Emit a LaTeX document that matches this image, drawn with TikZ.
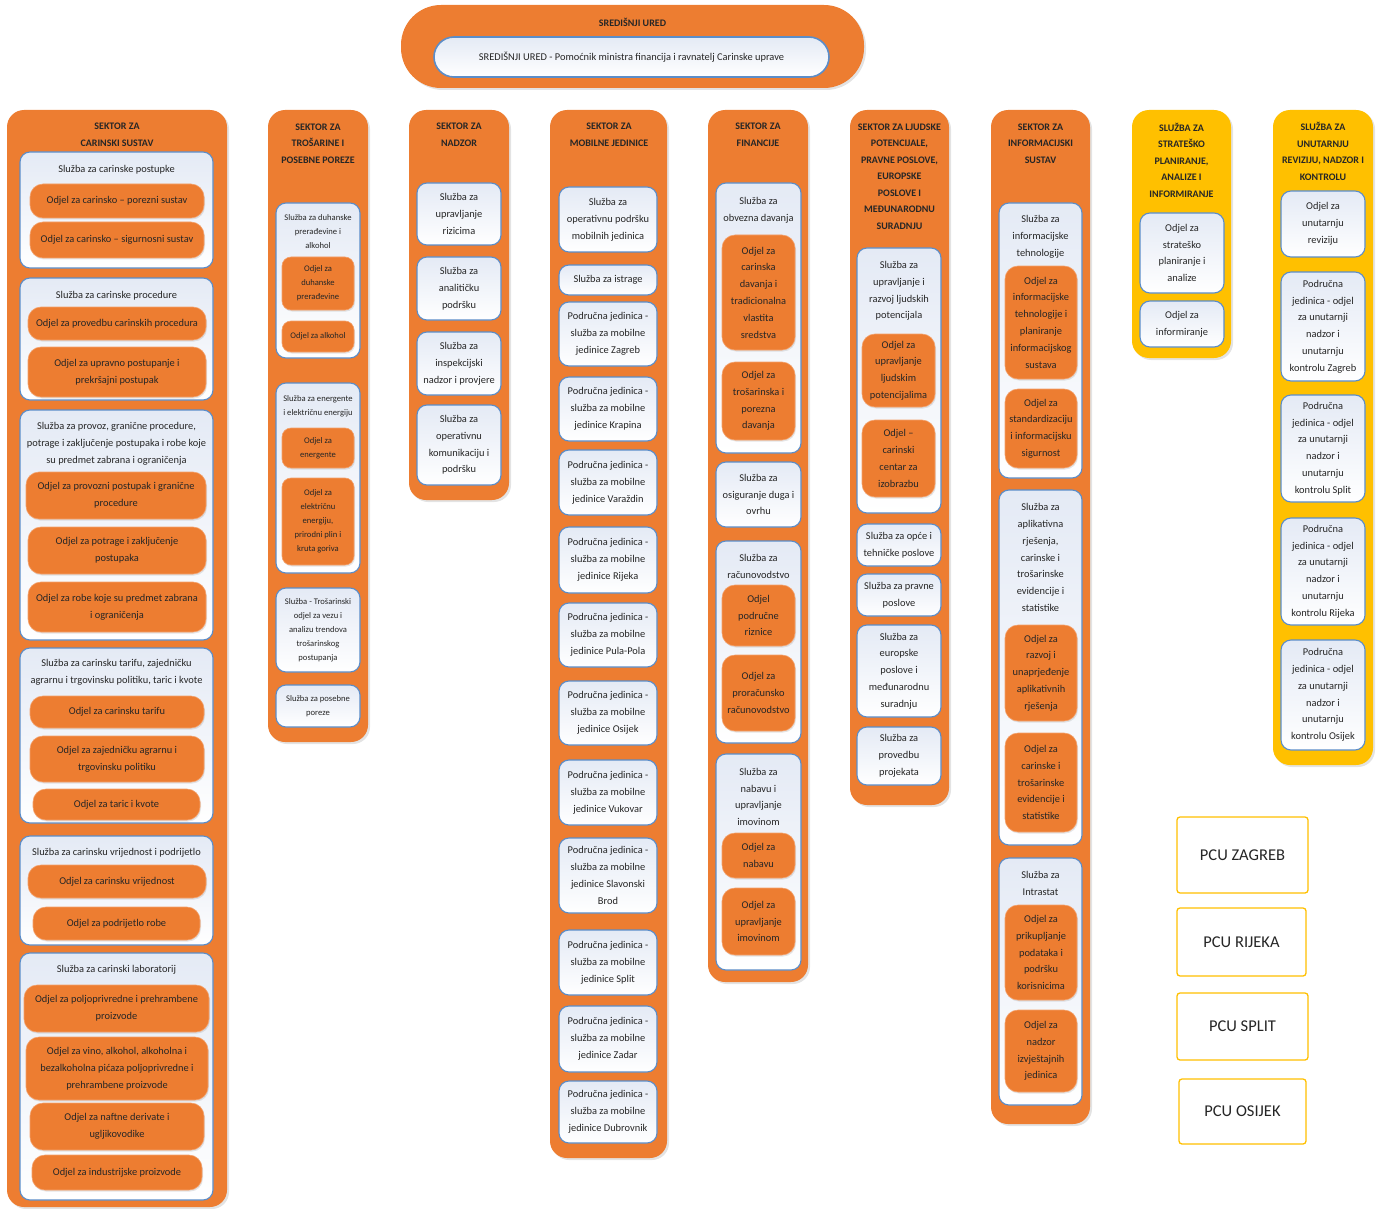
\documentclass[tikz,border=0pt]{standalone}
\usepackage{fontspec}
\setmainfont{Carlito}
\usetikzlibrary{shadows}
\definecolor{orgC}{HTML}{ED7D31}
\definecolor{orgL}{HTML}{F3A06A}
\definecolor{yelC}{HTML}{FFC000}
\definecolor{bluC}{HTML}{5B8DC9}
\definecolor{svtop}{HTML}{E4EAF5}
\definecolor{txtC}{HTML}{262626}
\newcommand\fsN{\fontsize{10.4}{16.8}\selectfont}
\newcommand\fsS{\fontsize{8.6}{14}\selectfont}
\newcommand\fsT{\fontsize{10}{16.5}\selectfont\bfseries}
\newcommand\bx[7]{\node[#1, minimum width={(#5-#3)*1pt}, minimum height={(#6-#4)*1pt}] (#2) at ({(#3+#5)/2},{(#4+#6)/2}) {#7};}
\tikzset{
 sector/.style={fill=orgC, rounded corners=17pt, draw=none, inner sep=0pt,
   drop shadow={opacity=0.22, shadow xshift=2pt, shadow yshift=-2pt}},
 ysector/.style={sector, fill=yelC},
 svc/.style={draw=bluC, line width=1.1pt, rounded corners=10pt, top color=svtop, bottom color=white,
   font=\fsN, align=center, text=txtC, inner sep=2pt},
 svcs/.style={svc, font=\fsS},
 odj/.style={fill=orgC, draw=orgL, line width=0.6pt, rounded corners=13pt, font=\fsN, align=center,
   text=txtC, inner sep=2pt, drop shadow={opacity=0.2, shadow xshift=1pt, shadow yshift=-1.5pt}},
 odjs/.style={odj, font=\fsS, rounded corners=9pt},
 ttl/.style={font=\fsT, align=center, text=txtC, inner sep=0pt},
 stl/.style={font=\fsN, align=center, text=txtC, inner sep=0pt},
 stls/.style={stl, font=\fsS},
 pcu/.style={draw=yelC, line width=1.3pt, fill=white, rounded corners=3pt, text=txtC,
   font=\fontsize{16.5}{20}\selectfont}
}
\begin{document}
\begin{tikzpicture}[x=1pt,y=-1pt]
\useasboundingbox (0,0) rectangle (1379,1209);
% ---------------- central office
\bx{sector, rounded corners=40pt}{central}{401}{5}{864}{88}{}
\node[ttl] (centralT) at (632.5,22) {SREDIŠNJI URED};
\bx{svc, rounded corners=20pt, line width=1.6pt}{centralIn}{434}{37}{829}{77}{SREDIŠNJI URED - Pomoćnik ministra financija i ravnatelj Carinske uprave}
% ---------------- column 1
\bx{sector}{s1}{7}{110}{227}{1207}{}
\node[ttl] (s1T) at (117,135) {SEKTOR ZA\\CARINSKI SUSTAV};
\bx{svc}{s1a}{20}{152}{213}{268}{}
\node[stl] (s1aT) at (116.5,170) {Služba za carinske postupke};
\bx{odj}{s1a1}{30}{184}{204}{218}{Odjel za carinsko – porezni sustav}
\bx{odj}{s1a2}{30}{222}{204}{258}{Odjel za carinsko – sigurnosni sustav}
\bx{svc}{s1b}{20}{278}{213}{400}{}
\node[stl] (s1bT) at (116.5,296) {Služba za carinske procedure};
\bx{odj}{s1b1}{28}{307}{206}{340}{Odjel za provedbu carinskih procedura}
\bx{odj}{s1b2}{28}{347}{206}{397}{Odjel za upravno postupanje i\\prekršajni postupak}
\bx{svc}{s1c}{20}{410}{213}{640}{}
\node[stl] (s1cT) at (116.5,444) {Služba za provoz, granične procedure,\\potrage i zaključenje postupaka i robe koje\\su predmet zabrana i ograničenja};
\bx{odj}{s1c1}{26}{472}{206}{519}{Odjel za provozni postupak i granične\\procedure}
\bx{odj}{s1c2}{28}{527}{206}{574}{Odjel za potrage i zaključenje\\postupaka}
\bx{odj}{s1c3}{28}{582}{206}{632}{Odjel za robe koje su predmet zabrana\\i ograničenja}
\bx{svc}{s1d}{20}{648}{213}{823}{}
\node[stl] (s1dT) at (116.5,672.5) {Služba za carinsku tarifu, zajedničku\\agrarnu i trgovinsku politiku, taric i kvote};
\bx{odj}{s1d1}{30}{696}{204}{728}{Odjel za carinsku tarifu}
\bx{odj}{s1d2}{30}{736}{204}{782}{Odjel za zajedničku agrarnu i\\trgovinsku politiku}
\bx{odj}{s1d3}{33}{789}{200}{820}{Odjel za taric i kvote}
\bx{svc}{s1e}{20}{836}{213}{945}{}
\node[stl] (s1eT) at (116.5,853) {Služba za carinsku vrijednost i podrijetlo};
\bx{odj}{s1e1}{28}{865}{206}{898}{Odjel za carinsku vrijednost}
\bx{odj}{s1e2}{33}{907}{200}{940}{Odjel za podrijetlo robe}
\bx{svc}{s1f}{20}{953}{213}{1200}{}
\node[stl] (s1fT) at (116.5,970) {Služba za carinski laboratorij};
\bx{odj}{s1f1}{24}{985}{209}{1032}{Odjel za poljoprivredne i prehrambene\\proizvode}
\bx{odj}{s1f2}{26}{1037}{208}{1100}{Odjel za vino, alkohol, alkoholna i\\bezalkoholna pićaza poljoprivredne i\\prehrambene proizvode}
\bx{odj}{s1f3}{30}{1103}{204}{1150}{Odjel za naftne derivate i\\ugljikovodike}
\bx{odj}{s1f4}{32}{1155}{202}{1190}{Odjel za industrijske proizvode}
% ---------------- column 2
\bx{sector}{s2}{268}{110}{368}{742}{}
\node[ttl] (s2T) at (318,143.5) {SEKTOR ZA\\TROŠARINE I\\POSEBNE POREZE};
\bx{svcs}{s2a}{276}{203}{360}{358}{}
\node[stls] (s2aT) at (318,232) {Služba za duhanske\\prerađevine i\\alkohol};
\bx{odjs}{s2a1}{282}{257}{354}{310}{Odjel za\\duhanske\\prerađevine}
\bx{odjs}{s2a2}{282}{321}{354}{352}{Odjel za alkohol}
\bx{svcs}{s2b}{276}{383}{360}{573}{}
\node[stls] (s2bT) at (318,406) {Služba za energente\\i električnu energiju};
\bx{odjs}{s2b1}{282}{428}{354}{468}{Odjel za\\energente}
\bx{odjs}{s2b2}{282}{478}{354}{565}{Odjel za\\električnu\\energiju,\\prirodni plin i\\kruta goriva}
\bx{svcs}{s2c}{276}{588}{360}{672}{Služba - Trošarinski\\odjel za vezu i\\analizu trendova\\trošarinskog\\postupanja}
\bx{svcs}{s2d}{276}{685}{360}{727}{Služba za posebne\\poreze}
% ---------------- column 3
\bx{sector}{s3}{409}{110}{509}{500}{}
\node[ttl] (s3T) at (459,135) {SEKTOR ZA\\NADZOR};
\bx{svc}{s3a}{417}{183}{501}{245}{Služba za\\upravljanje\\rizicima}
\bx{svc}{s3b}{417}{257}{501}{320}{Služba za\\analitičku\\podršku}
\bx{svc}{s3c}{417}{332}{501}{395}{Služba za\\inspekcijski\\nadzor i provjere}
\bx{svc}{s3d}{417}{405}{501}{485}{Služba za\\operativnu\\komunikaciju i\\podršku}
% ---------------- column 4
\bx{sector}{s4}{550}{110}{667}{1158}{}
\node[ttl] (s4T) at (609,135) {SEKTOR ZA\\MOBILNE JEDINICE};
\bx{svc}{s4a}{559}{187}{657}{252}{Služba za\\operativnu podršku\\mobilnih jedinica}
\bx{svc}{s4b}{559}{265}{657}{295}{Služba za istrage}
\bx{svc}{s4c}{559}{302}{657}{366}{Područna jedinica -\\služba za mobilne\\jedinice Zagreb}
\bx{svc}{s4d}{559}{377}{657}{441}{Područna jedinica -\\služba za mobilne\\jedinice Krapina}
\bx{svc}{s4e}{559}{450}{657}{515}{Područna jedinica -\\služba za mobilne\\jedinice Varaždin}
\bx{svc}{s4f}{559}{527}{657}{593}{Područna jedinica -\\služba za mobilne\\jedinice Rijeka}
\bx{svc}{s4g}{559}{603}{657}{667}{Područna jedinica -\\služba za mobilne\\jedinice Pula-Pola}
\bx{svc}{s4h}{559}{681}{657}{745}{Područna jedinica -\\služba za mobilne\\jedinice Osijek}
\bx{svc}{s4i}{559}{760}{657}{825}{Područna jedinica -\\služba za mobilne\\jedinice Vukovar}
\bx{svc}{s4j}{559}{838}{657}{913}{Područna jedinica -\\služba za mobilne\\jedinice Slavonski\\Brod}
\bx{svc}{s4k}{559}{930}{657}{995}{Područna jedinica -\\služba za mobilne\\jedinice Split}
\bx{svc}{s4l}{559}{1006}{657}{1072}{Područna jedinica -\\služba za mobilne\\jedinice Zadar}
\bx{svc}{s4m}{559}{1081}{657}{1143}{Područna jedinica -\\služba za mobilne\\jedinice Dubrovnik}
% ---------------- column 5
\bx{sector}{s5}{708}{110}{808}{982}{}
\node[ttl] (s5T) at (758,135) {SEKTOR ZA\\FINANCIJE};
\bx{svc}{s5a}{716}{183}{801}{453}{}
\node[stl] (s5aT) at (758.5,210) {Služba za\\obvezna davanja};
\bx{odj}{s5a1}{722}{235}{795}{350}{Odjel za\\carinska\\davanja i\\tradicionalna\\vlastita\\sredstva}
\bx{odj}{s5a2}{722}{362}{795}{440}{Odjel za\\trošarinska i\\porezna\\davanja}
\bx{svc}{s5b}{716}{462}{801}{527}{Služba za\\osiguranje duga i\\ovrhu}
\bx{svc}{s5c}{716}{541}{801}{743}{}
\node[stl] (s5cT) at (758.5,566.5) {Služba za\\računovodstvo};
\bx{odj}{s5c1}{722}{585}{795}{646}{Odjel\\područne\\riznice}
\bx{odj}{s5c2}{722}{655}{795}{731}{Odjel za\\proračunsko\\računovodstvo}
\bx{svc}{s5d}{716}{754}{801}{970}{}
\node[stl] (s5dT) at (758.5,797) {Služba za\\nabavu i\\upravljanje\\imovinom};
\bx{odj}{s5d1}{722}{833}{795}{878}{Odjel za\\nabavu}
\bx{odj}{s5d2}{722}{888}{795}{955}{Odjel za\\upravljanje\\imovinom}
% ---------------- column 6
\bx{sector}{s6}{850}{110}{949}{805}{}
\node[ttl] (s6T) at (899.5,176.5) {SEKTOR ZA LJUDSKE\\POTENCIJALE,\\PRAVNE POSLOVE,\\EUROPSKE\\POSLOVE I\\MEĐUNARODNU\\SURADNJU};
\bx{svc}{s6a}{857}{248}{941}{513}{}
\node[stl] (s6aT) at (899,291) {Služba za\\upravljanje i\\razvoj ljudskih\\potencijala};
\bx{odj}{s6a1}{862}{334}{935}{407}{Odjel za\\upravljanje\\ljudskim\\potencijalima}
\bx{odj}{s6a2}{862}{420}{935}{497}{Odjel –\\carinski\\centar za\\izobrazbu}
\bx{svc}{s6b}{857}{524}{941}{566}{Služba za opće i\\tehničke poslove}
\bx{svc}{s6c}{857}{574}{941}{616}{Služba za pravne\\poslove}
\bx{svc}{s6d}{857}{625}{941}{717}{Služba za\\europske\\poslove i\\međunarodnu\\suradnju}
\bx{svc}{s6e}{857}{727}{941}{785}{Služba za\\provedbu\\projekata}
% ---------------- column 7
\bx{sector}{s7}{991}{110}{1090}{1124}{}
\node[ttl] (s7T) at (1040.5,143.5) {SEKTOR ZA\\INFORMACIJSKI\\SUSTAV};
\bx{svc}{s7a}{999}{203}{1082}{478}{}
\node[stl] (s7aT) at (1040.5,237) {Služba za\\informacijske\\tehnologije};
\bx{odj}{s7a1}{1005}{266}{1077}{379}{Odjel za\\informacijske\\tehnologije i\\planiranje\\informacijskog\\sustava}
\bx{odj}{s7a2}{1005}{389}{1077}{468}{Odjel za\\standardizaciju\\i informacijsku\\sigurnost}
\bx{svc}{s7b}{999}{490}{1082}{845}{}
\node[stl] (s7bT) at (1040.5,557.5) {Služba za\\aplikativna\\rješenja,\\carinske i\\trošarinske\\evidencije i\\statistike};
\bx{odj}{s7b1}{1005}{625}{1077}{721}{Odjel za\\razvoj i\\unaprjeđenje\\aplikativnih\\rješenja}
\bx{odj}{s7b2}{1005}{733}{1077}{832}{Odjel za\\carinske i\\trošarinske\\evidencije i\\statistike}
\bx{svc}{s7c}{999}{858}{1082}{1105}{}
\node[stl] (s7cT) at (1040.5,883.5) {Služba za\\Intrastat};
\bx{odj}{s7c1}{1005}{905}{1077}{1000}{Odjel za\\prikupljanje\\podataka i\\podršku\\korisnicima}
\bx{odj}{s7c2}{1005}{1010}{1077}{1092}{Odjel za\\nadzor\\izvještajnih\\jedinica}
% ---------------- column 8
\bx{ysector}{s8}{1132}{110}{1231}{358}{}
\node[ttl] (s8T) at (1181.5,160) {SLUŽBA ZA\\STRATEŠKO\\PLANIRANJE,\\ANALIZE I\\INFORMIRANJE};
\bx{svc}{s8a}{1140}{213}{1224}{293}{Odjel za\\strateško\\planiranje i\\analize}
\bx{svc}{s8b}{1140}{301}{1224}{347}{Odjel za\\informiranje}
% ---------------- column 9
\bx{ysector}{s9}{1273}{110}{1373}{765}{}
\node[ttl] (s9T) at (1323,151.5) {SLUŽBA ZA\\UNUTARNJU\\REVIZIJU, NADZOR I\\KONTROLU};
\bx{svc}{s9a}{1281}{191}{1365}{257}{Odjel za\\unutarnju\\reviziju}
\bx{svc}{s9b}{1281}{272}{1365}{381}{Područna\\jedinica - odjel\\za unutarnji\\nadzor i\\unutarnju\\kontrolu Zagreb}
\bx{svc}{s9c}{1281}{395}{1365}{502}{Područna\\jedinica - odjel\\za unutarnji\\nadzor i\\unutarnju\\kontrolu Split}
\bx{svc}{s9d}{1281}{518}{1365}{625}{Područna\\jedinica - odjel\\za unutarnji\\nadzor i\\unutarnju\\kontrolu Rijeka}
\bx{svc}{s9e}{1281}{640}{1365}{750}{Područna\\jedinica - odjel\\za unutarnji\\nadzor i\\unutarnju\\kontrolu Osijek}
% ---------------- PCU
\bx{pcu}{pcuZ}{1177}{817}{1308}{893}{PCU ZAGREB}
\bx{pcu}{pcuR}{1177}{908}{1306}{976}{PCU RIJEKA}
\bx{pcu}{pcuS}{1177}{993}{1308}{1060}{PCU SPLIT}
\bx{pcu}{pcuO}{1179}{1079}{1306}{1144}{PCU OSIJEK}
\end{tikzpicture}
\end{document}
